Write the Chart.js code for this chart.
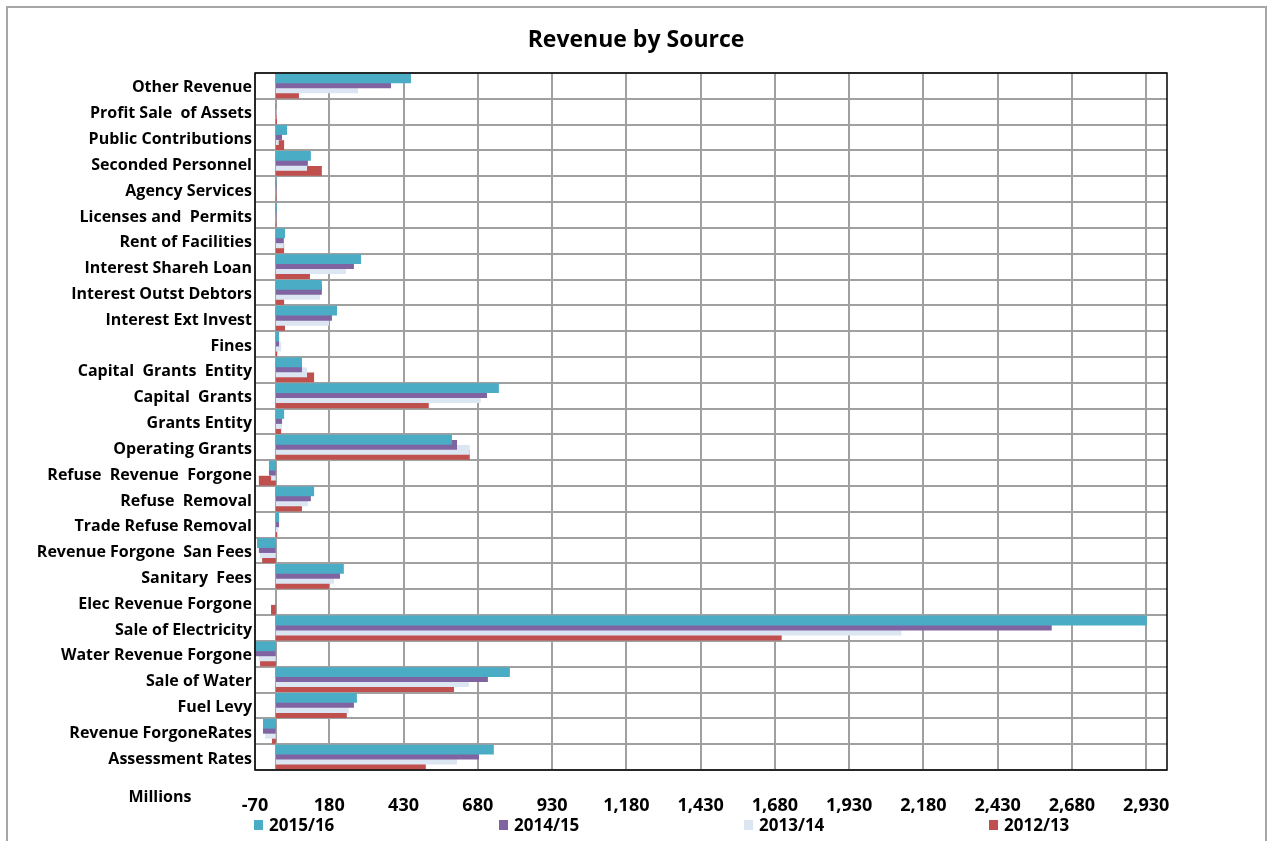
<!DOCTYPE html>
<html><head><meta charset="utf-8">
<script src="https://cdn.jsdelivr.net/npm/chart.js@4/dist/chart.umd.min.js"></script>
<style>html,body{margin:0;padding:0;background:#fff;}#wrap{width:1267px;height:841px;}</style>
</head><body><div id="wrap"><canvas id="c" width="1267" height="841"></canvas></div>
<script>
const categories = ['Other Revenue','Profit Sale  of Assets','Public Contributions','Seconded Personnel','Agency Services','Licenses and  Permits','Rent of Facilities','Interest Shareh Loan','Interest Outst Debtors','Interest Ext Invest','Fines','Capital  Grants  Entity','Capital  Grants','Grants Entity','Operating Grants','Refuse  Revenue  Forgone','Refuse  Removal','Trade Refuse Removal','Revenue Forgone  San Fees','Sanitary  Fees','Elec Revenue Forgone','Sale of Electricity','Water Revenue Forgone','Sale of Water','Fuel Levy','Revenue ForgoneRates','Assessment Rates'];
const seriesNames = ['2015/16','2014/15','2013/14','2012/13'];
const values2015_16 = [455,0,38,118,2,3,31,287,155,206,11,88,751,28,593,-23,129,11,-63,229,0,2932,-75,788,273,-43,734];
const values2014_15 = [388,1,21,108,2,2,27,263,155,189,11,88,711,21,610,-23,118,11,-57,216,0,2612,-70,714,263,-43,684];
const values2013_14 = [277,2,10,105,1,1,27,236,149,179,18,105,690,21,653,-16,108,9,-53,196,0,2106,-57,650,246,-36,610];
const values2012_13 = [78,4,28,155,2,2,28,115,28,31,5,129,515,18,653,-57,88,5,-46,179,-16,1703,-53,600,239,-13,505];
const tickValues = [-70,180,430,680,930,1180,1430,1680,1930,2180,2430,2680,2930];
const axisMin = -70, axisMax = 3000;
const titleText = 'Revenue by Source';
const axisUnitText = 'Millions';
const colors = ['#4BACC6','#8064A2','#DCE6F2','#C0504D'];
const FONT = '"Open Sans", Lato, sans-serif';

const seriesValues = [values2015_16, values2014_15, values2013_14, values2012_13];

const extras = {
  id: 'extras',
  beforeDraw(chart) {
    const ctx = chart.ctx;
    ctx.save();
    ctx.fillStyle = '#fff';
    ctx.fillRect(0, 0, chart.width, chart.height);
    ctx.strokeStyle = '#a6a6a6';
    ctx.lineWidth = 2;
    ctx.strokeRect(7, 7, 1259, 860);
    ctx.restore();
  },
  beforeDatasetsDraw(chart) {
    const ctx = chart.ctx, a = chart.chartArea, x = chart.scales.x.getPixelForValue(0);
    ctx.save();
    ctx.strokeStyle = '#a0a0a0';
    ctx.lineWidth = 2;
    ctx.beginPath();
    ctx.moveTo(Math.round(x), a.top);
    ctx.lineTo(Math.round(x), a.bottom);
    ctx.stroke();
    ctx.restore();
  },
  afterDatasetsDraw(chart) {
    const ctx = chart.ctx, a = chart.chartArea;
    ctx.save();
    ctx.strokeStyle = '#000';
    ctx.lineWidth = 1.5;
    ctx.strokeRect(a.left, a.top, a.right - a.left, a.bottom - a.top);
    ctx.restore();
  },
  afterDraw(chart) {
    const ctx = chart.ctx;
    ctx.save();
    ctx.fillStyle = '#000';
    ctx.textBaseline = 'middle';
    ctx.textAlign = 'center';
    ctx.font = 'bold 23px ' + FONT;
    ctx.fillText(titleText, 636, 40);
    ctx.font = 'bold 16px ' + FONT;
    ctx.fillText(axisUnitText, 160, 797);
    ctx.font = 'bold 17px ' + FONT;
    ctx.textAlign = 'left';
    seriesNames.forEach((name, i) => {
      const x0 = 254 + 245 * i;
      ctx.fillStyle = colors[i];
      ctx.fillRect(x0, 820, 9, 10);
      ctx.fillStyle = '#000';
      ctx.fillText(name, x0 + 15, 826);
    });
    ctx.restore();
  }
};

new Chart(document.getElementById('c'), {
  type: 'bar',
  data: {
    labels: categories,
    datasets: seriesNames.map((name, i) => ({
      label: name,
      data: seriesValues[i],
      backgroundColor: colors[i],
      borderWidth: 0,
      categoryPercentage: 0.78,
      barPercentage: 1.95
    }))
  },
  options: {
    indexAxis: 'y',
    responsive: false,
    devicePixelRatio: 1,
    animation: false,
    layout: { padding: { left: 10, right: 100, top: 73, bottom: 26 } },
    plugins: {
      legend: { display: false },
      tooltip: { enabled: false },
      title: { display: false }
    },
    scales: {
      x: {
        type: 'linear',
        min: axisMin,
        max: axisMax,
        afterBuildTicks: (s) => { s.ticks = tickValues.map(v => ({ value: v })); },
        afterFit: (s) => { s.height = 45; },
        grid: { color: '#a0a0a0', lineWidth: 2, drawTicks: false },
        border: { display: false },
        ticks: {
          padding: 25,
          color: '#000',
          maxRotation: 0,
          autoSkip: false,
          font: { family: FONT, size: 18, weight: 'bold' },
          callback: (v) => Number(v).toLocaleString('en-US')
        }
      },
      y: {
        type: 'category',
        afterFit: (s) => { s.width = 245; },
        grid: { color: '#a0a0a0', lineWidth: 2, drawTicks: false, offset: true },
        border: { display: false },
        ticks: {
          padding: 3,
          labelOffset: 2,
          color: '#000',
          autoSkip: false,
          font: { family: FONT, size: 16, weight: 'bold' }
        }
      }
    }
  },
  plugins: [extras]
});
</script>
</body></html>
